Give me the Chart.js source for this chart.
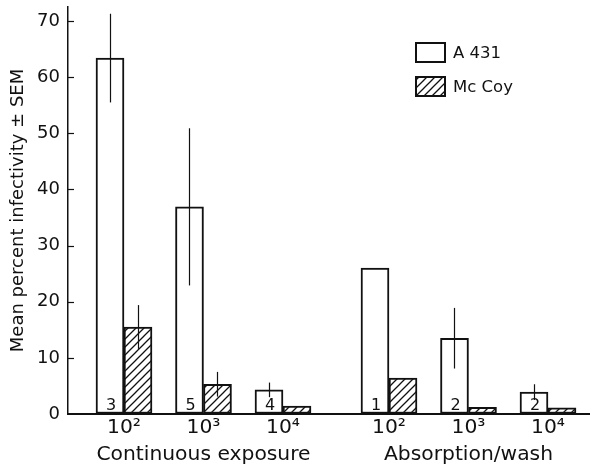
<!DOCTYPE html>
<html><head><meta charset="utf-8">
<script src="https://cdn.jsdelivr.net/npm/chart.js@4.4.1/dist/chart.umd.min.js"></script>
<style>html,body{margin:0;padding:0;background:#fff}#wrap{width:590px;height:470px}</style>
</head><body><div id="wrap"><canvas id="c" width="590" height="470"></canvas></div>
<script>
// ---- data ----
const doses = ['10²', '10³', '10⁴', '10²', '10³', '10⁴'];
const groupOfBar = [0, 0, 0, 1, 1, 1];
const groups = ['Continuous exposure', 'Absorption/wash'];
const seriesNames = ['A 431', 'Mc Coy'];
const a431 = [63.4, 36.9, 4.3, 26.0, 13.5, 3.9];
const a431Sem = [7.9, 14.0, 1.3, 0, 5.4, 1.4];
const mccoy = [15.5, 5.3, 1.4, 6.4, 1.2, 1.1];
const mccoySem = [3.9, 2.2, 0, 0, 0, 0];
const nExp = ['3', '5', '4', '1', '2', '2'];
const yTicks = [0, 10, 20, 30, 40, 50, 60, 70];
const yTitle = 'Mean percent infectivity ± SEM';

// ---- layout helpers (slot positions on linear axis) ----
const slots = [];
{
  const cnt = {};
  groupOfBar.forEach((g, i) => {
    cnt[g] = (cnt[g] || 0);
    slots.push(g * 10 + cnt[g] * 3);
    cnt[g]++;
  });
}
// label shows group name under middle dose of each group
function tickLabel(i) {
  const g = groupOfBar[i];
  const members = groupOfBar.map((x, k) => x === g ? k : -1).filter(k => k >= 0);
  const mid = members[Math.floor(members.length / 2)];
  return i === mid ? [doses[i], groups[g]] : doses[i];
}

const FONT = "'DejaVu Sans', sans-serif";
const INK = '#111';
Chart.defaults.font.family = FONT;
Chart.defaults.color = INK;

const canvas = document.getElementById('c');
const ctx = canvas.getContext('2d');

function hatch() {
  const s = 8;
  const c = document.createElement('canvas');
  c.width = s; c.height = s;
  const x = c.getContext('2d');
  x.fillStyle = '#fff'; x.fillRect(0, 0, s, s);
  x.strokeStyle = INK; x.lineWidth = 1.3;
  x.beginPath();
  x.moveTo(0, s); x.lineTo(s, 0);
  x.moveTo(-s / 2, s / 2); x.lineTo(s / 2, -s / 2);
  x.moveTo(s / 2, s * 1.5); x.lineTo(s * 1.5, s / 2);
  x.stroke();
  return ctx.createPattern(c, 'repeat');
}
const hatchPattern = hatch();

const sems = [a431Sem, mccoySem];

const extras = {
  id: 'extras',
  afterDatasetsDraw(chart) {
    const c = chart.ctx;
    const ys = chart.scales.y;
    c.save();
    // error bars
    c.strokeStyle = INK; c.lineWidth = 1.2;
    chart.data.datasets.forEach((ds, di) => {
      const meta = chart.getDatasetMeta(di);
      meta.data.forEach((el, i) => {
        const v = ds.data[i].y, s = sems[di][i];
        if (!s) return;
        const x = Math.round(el.x) + 0.5;
        c.beginPath();
        c.moveTo(x, ys.getPixelForValue(v + s));
        c.lineTo(x, ys.getPixelForValue(v - s));
        c.stroke();
      });
    });
    // n labels inside A431 bars
    c.fillStyle = INK;
    c.font = '16px ' + FONT;
    c.textAlign = 'center'; c.textBaseline = 'middle';
    const m0 = chart.getDatasetMeta(0);
    m0.data.forEach((el, i) => {
      c.fillText(nExp[i], el.x + 1, ys.getPixelForValue(0) - 8);
    });
    c.restore();
  },
  afterDraw(chart) {
    const c = chart.ctx;
    const ys = chart.scales.y;
    const left = chart.chartArea.left;
    c.save();
    // inward y tick marks
    c.strokeStyle = INK; c.lineWidth = 1.2;
    ys.ticks.forEach(t => {
      if (t.value === 0) return;
      const y = Math.round(ys.getPixelForValue(t.value)) + 0.5;
      c.beginPath(); c.moveTo(left, y); c.lineTo(left + 6, y); c.stroke();
    });
    // legend
    const fills = ['#fff', hatchPattern];
    c.font = '16.5px ' + FONT;
    c.textAlign = 'left'; c.textBaseline = 'middle';
    seriesNames.forEach((name, i) => {
      const bx = 415, by = 42 + i * 34, bw = 31, bh = 21;
      c.fillStyle = fills[i];
      c.fillRect(bx, by, bw, bh);
      c.lineWidth = 2; c.strokeStyle = INK;
      c.strokeRect(bx + 1, by + 1, bw - 2, bh - 2);
      c.fillStyle = INK;
      c.fillText(name, bx + 38, by + bh / 2 + 1);
    });
    c.restore();
  }
};

new Chart(canvas, {
  type: 'bar',
  data: {
    datasets: [
      {
        label: seriesNames[0],
        data: a431.map((v, i) => ({ x: slots[i], y: v })),
        backgroundColor: '#fff',
        borderColor: INK,
        borderWidth: 2,
        borderSkipped: false,
        barThickness: 28
      },
      {
        label: seriesNames[1],
        data: mccoy.map((v, i) => ({ x: slots[i], y: v })),
        backgroundColor: hatchPattern,
        borderColor: INK,
        borderWidth: 2,
        borderSkipped: false,
        barThickness: 28
      }
    ]
  },
  options: {
    responsive: false,
    animation: false,
    devicePixelRatio: 1,
    layout: { padding: { left: 0, right: 0, top: 7, bottom: 2 } },
    plugins: { legend: { display: false }, tooltip: { enabled: false } },
    scales: {
      x: {
        type: 'linear',
        offset: false,
        min: -2.113,
        max: 17.585,
        grid: { display: false, drawTicks: false },
        border: { display: true, color: INK, width: 2 },
        afterBuildTicks(scale) { scale.ticks = slots.map(v => ({ value: v })); },
        afterFit(scale) { scale.paddingLeft = 0; scale.paddingRight = 0; },
        ticks: {
          autoSkip: false,
          maxRotation: 0,
          padding: 0,
          font: { size: 20.3, lineHeight: 27 / 20.3 },
          color: INK,
          callback(value, index) { return tickLabel(index); }
        }
      },
      y: {
        min: 0,
        max: 72.5,
        grid: { display: true, drawOnChartArea: false, drawTicks: false },
        border: { display: true, color: INK, width: 1.5 },
        afterBuildTicks(scale) { scale.ticks = yTicks.map(v => ({ value: v })); },
        afterFit(scale) { scale.width = 68; scale.paddingTop = 0; scale.paddingBottom = 0; },
        ticks: {
          padding: 8,
          font: { size: 18 },
          color: INK,
          callback(v) { return String(v); }
        },
        title: {
          display: true,
          text: yTitle,
          font: { size: 18, lineHeight: 1.2 },
          color: INK,
          padding: { top: 8, bottom: 0 }
        }
      }
    }
  },
  plugins: [extras]
});
</script>
</body></html>
